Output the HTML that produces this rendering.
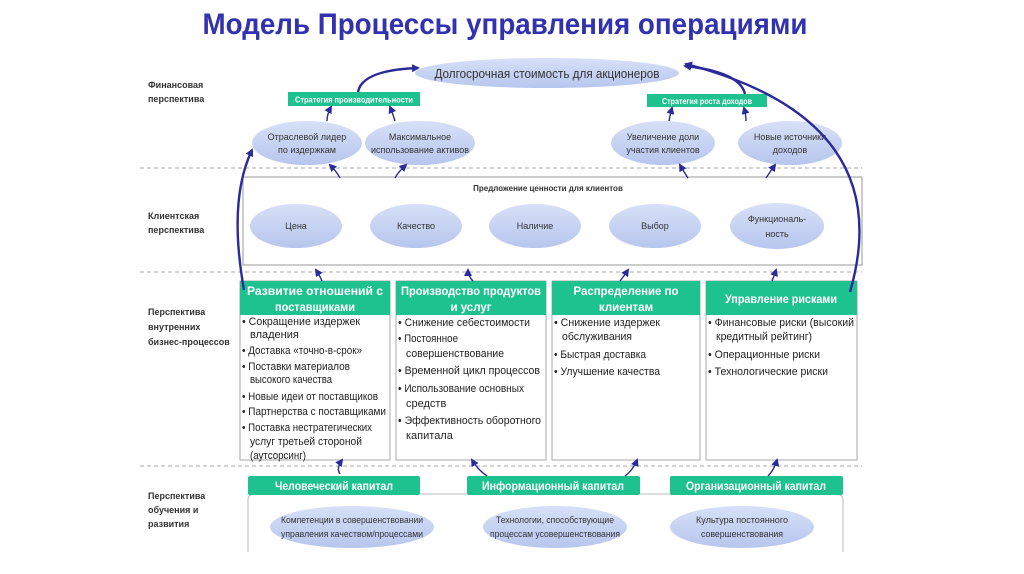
<!DOCTYPE html>
<html><head><meta charset="utf-8"><style>
html,body{margin:0;padding:0;background:#fff;width:1024px;height:574px;overflow:hidden}
svg{display:block}
text{font-family:"Liberation Sans",sans-serif}
</style></head><body>
<svg width="1024" height="574" viewBox="0 0 1024 574" xmlns="http://www.w3.org/2000/svg">
<defs>
<marker id="ah" markerWidth="8" markerHeight="8" refX="6" refY="4" orient="auto" markerUnits="userSpaceOnUse">
<path d="M0,0 L8,4 L0,8 z" fill="#2a2a9a"/></marker>
<linearGradient id="eg" x1="0" y1="0" x2="0" y2="1"><stop offset="0" stop-color="#d7e0f7"/><stop offset="1" stop-color="#b7c6ee"/></linearGradient>
</defs>
<text x="505" y="34" font-size="30" font-weight="bold" fill="#3232b0" text-anchor="middle" textLength="605" lengthAdjust="spacingAndGlyphs">Модель Процессы управления операциями</text>

<g stroke="#aaa" stroke-dasharray="4,3" stroke-width="1">
<line x1="140" y1="168" x2="862" y2="168"/>
<line x1="140" y1="272" x2="862" y2="272"/>
<line x1="140" y1="466" x2="862" y2="466"/>
</g>

<g font-size="9" fill="#333" font-weight="bold">
<text x="148" y="88">Финансовая</text><text x="148" y="102">перспектива</text>
<text x="148" y="219">Клиентская</text><text x="148" y="233">перспектива</text>
<text x="148" y="315">Перспектива</text><text x="148" y="330">внутренних</text><text x="148" y="345">бизнес-процессов</text>
<text x="148" y="499">Перспектива</text><text x="148" y="513">обучения и</text><text x="148" y="527">развития</text>
</g>

<ellipse cx="547" cy="73" rx="132" ry="15" fill="url(#eg)"/>
<text x="547" y="78" font-size="13" fill="#333" text-anchor="middle" textLength="225" lengthAdjust="spacingAndGlyphs">Долгосрочная стоимость для акционеров</text>

<rect x="288" y="92" width="132" height="14" fill="#1ec28e"/>
<text x="354" y="102.5" font-size="8" fill="#fff" text-anchor="middle" font-weight="bold" textLength="118" lengthAdjust="spacingAndGlyphs">Стратегия производительности</text>
<rect x="647" y="94" width="120" height="13" fill="#1ec28e"/>
<text x="707" y="104" font-size="8" fill="#fff" text-anchor="middle" font-weight="bold" textLength="90" lengthAdjust="spacingAndGlyphs">Стратегия роста доходов</text>

<g fill="url(#eg)">
<ellipse cx="307" cy="143" rx="55" ry="22"/><ellipse cx="420" cy="143" rx="55" ry="22"/>
<ellipse cx="663" cy="143" rx="52" ry="22"/><ellipse cx="790" cy="143" rx="52" ry="22"/>
</g>
<g font-size="9" fill="#333" text-anchor="middle">
<text x="307" y="140">Отраслевой лидер</text><text x="307" y="153">по издержкам</text>
<text x="420" y="140">Максимальное</text><text x="420" y="153">использование активов</text>
<text x="663" y="140">Увеличение доли</text><text x="663" y="153">участия клиентов</text>
<text x="790" y="140">Новые источники</text><text x="790" y="153">доходов</text>
</g>

<rect x="243" y="177" width="619" height="88" fill="#fff" stroke="#999"/>
<text x="548" y="191" font-size="8" fill="#333" text-anchor="middle" font-weight="bold">Предложение ценности для клиентов</text>
<g fill="url(#eg)">
<ellipse cx="296" cy="226" rx="46" ry="22"/><ellipse cx="416" cy="226" rx="46" ry="22"/>
<ellipse cx="535" cy="226" rx="46" ry="22"/><ellipse cx="655" cy="226" rx="46" ry="22"/>
<ellipse cx="777" cy="226" rx="47" ry="23"/>
</g>
<g font-size="9" fill="#333" text-anchor="middle">
<text x="296" y="229">Цена</text><text x="416" y="229">Качество</text><text x="535" y="229">Наличие</text><text x="655" y="229">Выбор</text>
<text x="777" y="222">Функциональ-</text><text x="777" y="237">ность</text>
</g>

<g fill="#fff" stroke="#aaa">
<rect x="240" y="281" width="150" height="179"/><rect x="396" y="281" width="150" height="179"/>
<rect x="552" y="281" width="148" height="179"/><rect x="706" y="281" width="151" height="179"/>
</g>
<g fill="#1ec28e">
<rect x="240" y="281" width="150" height="34"/><rect x="396" y="281" width="150" height="34"/>
<rect x="552" y="281" width="148" height="34"/><rect x="706" y="281" width="151" height="34"/>
</g>
<g font-size="11.5" fill="#fff" text-anchor="middle" font-weight="bold">
<text x="315" y="295" textLength="136" lengthAdjust="spacingAndGlyphs">Развитие отношений с</text><text x="315" y="311" textLength="80" lengthAdjust="spacingAndGlyphs">поставщиками</text>
<text x="471" y="295" textLength="140" lengthAdjust="spacingAndGlyphs">Производство продуктов</text><text x="471" y="311">и услуг</text>
<text x="626" y="295" textLength="105" lengthAdjust="spacingAndGlyphs">Распределение по</text><text x="626" y="311">клиентам</text>
<text x="781" y="303" textLength="112" lengthAdjust="spacingAndGlyphs">Управление рисками</text>
</g>
<g font-size="11" fill="#222">
<text x="242" y="325" textLength="118" lengthAdjust="spacingAndGlyphs">• Сокращение издержек</text><text x="250" y="338">владения</text>
<text x="242" y="354" textLength="120" lengthAdjust="spacingAndGlyphs">• Доставка «точно-в-срок»</text>
<text x="242" y="370" textLength="108" lengthAdjust="spacingAndGlyphs">• Поставки материалов</text><text x="250" y="383" textLength="82" lengthAdjust="spacingAndGlyphs">высокого качества</text>
<text x="242" y="400" textLength="136" lengthAdjust="spacingAndGlyphs">• Новые идеи от поставщиков</text>
<text x="242" y="415" textLength="144" lengthAdjust="spacingAndGlyphs">• Партнерства с поставщиками</text>
<text x="242" y="431" textLength="130" lengthAdjust="spacingAndGlyphs">• Поставка нестратегических</text><text x="250" y="445" textLength="112" lengthAdjust="spacingAndGlyphs">услуг третьей стороной</text><text x="250" y="459" textLength="56" lengthAdjust="spacingAndGlyphs">(аутсорсинг)</text>

<text x="398" y="326" textLength="132" lengthAdjust="spacingAndGlyphs">• Снижение себестоимости</text>
<text x="398" y="342" textLength="60" lengthAdjust="spacingAndGlyphs">• Постоянное</text><text x="406" y="357" textLength="98" lengthAdjust="spacingAndGlyphs">совершенствование</text>
<text x="398" y="374" textLength="142" lengthAdjust="spacingAndGlyphs">• Временной цикл процессов</text>
<text x="398" y="392" textLength="126" lengthAdjust="spacingAndGlyphs">• Использование основных</text><text x="406" y="407">средств</text>
<text x="398" y="424" textLength="143" lengthAdjust="spacingAndGlyphs">• Эффективность оборотного</text><text x="406" y="439">капитала</text>

<text x="554" y="326" textLength="106" lengthAdjust="spacingAndGlyphs">• Снижение издержек</text><text x="562" y="340" textLength="70" lengthAdjust="spacingAndGlyphs">обслуживания</text>
<text x="554" y="358" textLength="92" lengthAdjust="spacingAndGlyphs">• Быстрая доставка</text>
<text x="554" y="375" textLength="106" lengthAdjust="spacingAndGlyphs">• Улучшение качества</text>

<text x="708" y="326" textLength="146" lengthAdjust="spacingAndGlyphs">• Финансовые риски (высокий</text><text x="716" y="340" textLength="96" lengthAdjust="spacingAndGlyphs">кредитный рейтинг)</text>
<text x="708" y="358" textLength="112" lengthAdjust="spacingAndGlyphs">• Операционные риски</text>
<text x="708" y="375" textLength="120" lengthAdjust="spacingAndGlyphs">• Технологические риски</text>
</g>

<path d="M248,500 L248,552 M843,500 L843,552 M248,500 Q248,494 256,494 L835,494 Q843,494 843,500" fill="none" stroke="#bbb"/>
<g fill="#1ec28e">
<rect x="248" y="476" width="172" height="19" rx="2"/><rect x="467" y="476" width="173" height="19" rx="2"/><rect x="670" y="476" width="173" height="19" rx="2"/>
</g>
<g font-size="11.5" fill="#fff" text-anchor="middle" font-weight="bold">
<text x="334" y="490" textLength="118" lengthAdjust="spacingAndGlyphs">Человеческий капитал</text><text x="553" y="490" textLength="142" lengthAdjust="spacingAndGlyphs">Информационный капитал</text><text x="756" y="490" textLength="140" lengthAdjust="spacingAndGlyphs">Организационный капитал</text>
</g>
<g fill="url(#eg)">
<ellipse cx="352" cy="527" rx="82" ry="21"/><ellipse cx="555" cy="527" rx="72" ry="21"/><ellipse cx="742" cy="527" rx="72" ry="21"/>
</g>
<g font-size="9" fill="#333" text-anchor="middle">
<text x="352" y="523" textLength="142" lengthAdjust="spacingAndGlyphs">Компетенции в совершенствовании</text><text x="352" y="537" textLength="142" lengthAdjust="spacingAndGlyphs">управления качеством/процессами</text>
<text x="555" y="523" textLength="118" lengthAdjust="spacingAndGlyphs">Технологии, способствующие</text><text x="555" y="537" textLength="130" lengthAdjust="spacingAndGlyphs">процессам усовершенствования</text>
<text x="742" y="523" textLength="92" lengthAdjust="spacingAndGlyphs">Культура постоянного</text><text x="742" y="537" textLength="82" lengthAdjust="spacingAndGlyphs">совершенствования</text>
</g>

<g fill="none" stroke="#2a2a9a" stroke-width="1.4" marker-end="url(#ah)">
<path d="M340,474 Q336,468 342,460"/>
<path d="M487,476 Q478,470 472,460"/>
<path d="M625,476 Q633,470 637,460"/>
<path d="M768,476 Q774,470 777,460"/>
<path d="M322,281 Q320,276 316,270"/>
<path d="M473,281 Q468,276 468,270"/>
<path d="M620,281 Q624,276 628,270"/>
<path d="M772,281 Q774,276 776,270"/>
<path d="M340,178 Q337,172 330,165"/>
<path d="M395,178 Q398,172 406,165"/>
<path d="M688,178 Q684,172 680,165"/>
<path d="M766,178 Q770,172 775,165"/>
<path d="M327,121 Q327,114 331,107"/>
<path d="M395,121 Q393,114 390,107"/>
<path d="M669,121 Q670,115 672,108"/>
<path d="M746,121 Q746,115 744,108"/>
</g>
<g fill="none" stroke="#2a2a9a" stroke-width="2.4" marker-end="url(#ah)">
<path d="M358,92 Q362,70 418,68"/>
<path d="M745,94 Q740,72 685,66"/>
<path d="M244,290 Q228,200 252,150"/>
<path d="M850,292 Q900,120 686,64"/>
</g>
</svg>
</body></html>
